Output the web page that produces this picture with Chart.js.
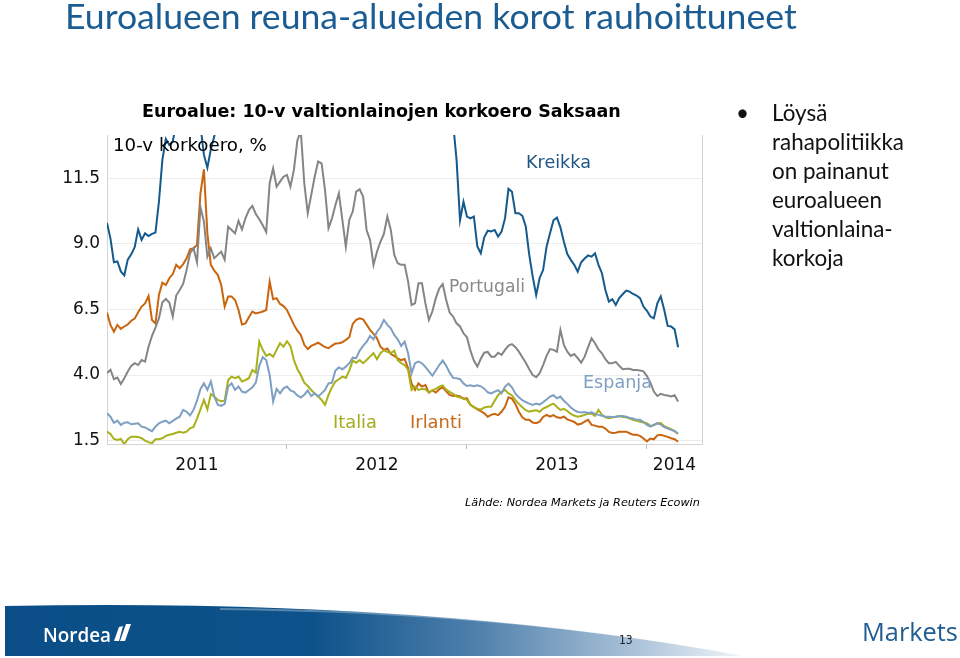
<!DOCTYPE html>
<html>
<head>
<meta charset="utf-8">
<script src="https://cdn.jsdelivr.net/npm/chart.js@4.4.1/dist/chart.umd.min.js"></script>
<style>
  html, body { margin: 0; padding: 0; background: #fff; }
  body { position: relative; width: 960px; height: 658px; overflow: hidden; font-family: "DejaVu Sans", sans-serif; }
  canvas { position: absolute; left: 0; top: 0; }
  .txt { position: absolute; white-space: nowrap; line-height: 1; }
  #title { font-family: Lato, "Open Sans", sans-serif; color: #1b5c93; font-size: 34px; }
  #sub { font-weight: bold; color: #000; font-size: 16px; }
  #unit { color: #000; font-size: 17px; }
  .lbl { font-size: 17px; }
  .bul { font-family: Lato, "Open Sans", sans-serif; color: #111; font-size: 22px; }
  #src { font-style: italic; color: #000; font-size: 12px; }
  #page { font-family: "Liberation Sans Narrow", "DejaVu Sans Condensed", sans-serif; color: #222; font-size: 12px; }
  #markets { font-family: "Open Sans", sans-serif; color: #215d91; font-size: 24px; }
  #nordea { font-family: "Open Sans", sans-serif; font-weight: 600; color: #fff; font-size: 20px; }
</style>
</head>
<body>
<canvas id="foot" width="960" height="58" style="top:600px"></canvas>
<canvas id="chart" width="960" height="658"></canvas>

<div class="txt" id="title">Euroalueen reuna-alueiden korot rauhoittuneet</div>
<div class="txt" id="sub">Euroalue: 10-v valtionlainojen korkoero Saksaan</div>
<div class="txt" id="unit">10-v korkoero, %</div>
<div class="txt lbl" id="lKre" style="color:#1d5585">Kreikka</div>
<div class="txt lbl" id="lPor" style="color:#8a8a8a">Portugali</div>
<div class="txt lbl" id="lEsp" style="color:#7f9fc2">Espanja</div>
<div class="txt lbl" id="lIta" style="color:#a4ad1e">Italia</div>
<div class="txt lbl" id="lIrl" style="color:#c86a1c">Irlanti</div>
<div class="txt bul" id="dot">•</div>
<div class="txt bul" id="b0">Löysä</div>
<div class="txt bul" id="b1">rahapolitiikka</div>
<div class="txt bul" id="b2">on painanut</div>
<div class="txt bul" id="b3">euroalueen</div>
<div class="txt bul" id="b4">valtionlaina-</div>
<div class="txt bul" id="b5">korkoja</div>
<div class="txt" id="src">Lähde: Nordea Markets ja Reuters Ecowin</div>
<div class="txt" id="nordea">Nordea</div>
<div class="txt" id="page">13</div>
<div class="txt" id="markets">Markets</div>

<script>
// weekly observations, first week of Jan 2011 .. early March 2014
const dates = [];
for (let w = 0; w < 166; w++) dates.push(2011 + w / 52);

// values above 13.15 run off the top of the plot
const kreikka = [
  9.8, 9.2, 8.3, 8.33, 7.95, 7.8, 8.4, 8.6, 8.87, 9.55, 9.15, 9.4, 9.3, 9.38, 9.43, 10.6, 12.2, 13.0, 12.77, 12.9,
  13.6, 14.0, 14.5, 14.8, 14.5, 14.0, 13.8, 13.5, 12.4, 11.9, 12.6, 13.1, 13.8, 14.5, 15.2, 15.8, 16.5, 17.0, 17.5, 18.0,
  18.5, 19.0, 19.5,
  20, 21, 22, 23, 24, 26, 28, 29, 30, 31, 32, 33, 32, 30, 27, 20, 19, 18, 18.5, 19,
  20, 21, 22, 24, 26, 27, 26, 25, 24, 25, 26, 25, 24, 23, 22, 22, 23, 22, 21, 20,
  20, 19, 18.5,
  18, 17.5, 17, 17, 16.5, 16, 16, 15.5, 15.5, 15, 15, 14.5, 14.5, 14, 13.6, 12.2, 9.9, 10.6, 10.04, 9.97,
  10.04, 8.9, 8.64, 9.25, 9.5, 9.47, 9.53, 9.28, 9.47, 9.97, 11.1, 10.99, 10.17, 10.17, 10.07, 9.66, 8.58, 7.75, 7.05, 7.7,
  8.0, 8.89, 9.4, 9.9,
  10.0, 9.63, 9.08, 8.61, 8.39, 8.2, 7.94, 8.3, 8.44, 8.56, 8.51, 8.64, 8.2, 7.88, 7.24, 6.8, 6.89, 6.67, 6.93, 7.08,
  7.22, 7.18, 7.09, 7.03, 6.93, 6.61, 6.45, 6.23, 6.16, 6.73, 7.0, 6.48, 5.87, 5.85, 5.74, 5.06
];
const portugali = [
  4.07, 4.2, 3.84, 3.9, 3.66, 3.88, 4.13, 4.35, 4.45, 4.38, 4.57, 4.51, 5.08, 5.49, 5.81, 6.16, 6.77, 6.9, 6.76, 6.23,
  7.03, 7.24, 7.47, 8.0, 8.64, 8.83, 8.3, 10.4, 9.85, 8.51, 8.83, 8.45, 8.58, 8.7, 8.4, 9.66, 9.53, 9.4, 9.88, 9.55,
  9.97, 10.29, 10.45,
  10.14, 9.94, 9.71, 9.45, 11.31, 11.88, 11.18, 11.37, 11.56, 11.63, 11.18, 11.82, 12.94, 13.3, 11.31, 10.17, 10.86, 11.56, 12.14, 12.07,
  11.05, 9.6, 9.97, 10.48, 10.93, 9.91, 8.89, 9.91, 10.23, 10.99, 11.08, 10.8, 9.53, 9.15, 8.2, 8.7, 9.08, 9.38, 10.04, 9.53,
  8.58, 8.26, 8.2,
  8.2, 7.56, 6.67, 6.73, 7.5, 7.5, 6.73, 6.1, 6.42, 6.93, 7.3, 7.47, 6.86, 6.38, 6.23, 5.97, 5.85, 5.59, 5.44, 4.93,
  4.55, 4.32, 4.62, 4.85, 4.88, 4.7, 4.7, 4.85, 4.77, 4.96, 5.12, 5.18, 5.06, 4.89, 4.68, 4.47, 4.22, 4.0, 3.92, 4.07,
  4.38, 4.73, 4.99, 4.96,
  4.89, 5.72, 5.15, 4.89, 4.73, 4.8, 4.64, 4.47, 4.7, 5.06, 5.4, 5.21, 4.98, 4.83, 4.6, 4.45, 4.45, 4.5, 4.35, 4.22,
  4.24, 4.24, 4.19, 4.19, 4.17, 4.14, 3.96, 3.71, 3.37, 3.2, 3.28, 3.24, 3.22, 3.18, 3.23, 2.99
];
const irlanti = [
  6.38, 5.91, 5.65, 5.91, 5.76, 5.85, 5.93, 6.07, 6.15, 6.39, 6.61, 6.73, 7.01, 6.1, 5.97, 7.05, 7.52, 7.43, 7.69, 7.85,
  8.2, 8.07, 8.23, 8.45, 8.79, 8.83, 8.96, 10.93, 11.84, 9.4, 8.2, 7.98, 7.82, 7.43, 6.61, 6.99, 6.99, 6.86, 6.48, 5.93,
  5.97, 6.2, 6.42,
  6.35, 6.38, 6.42, 6.48, 7.56, 6.89, 6.93, 6.71, 6.63, 6.48, 6.2, 5.92, 5.69, 5.53, 5.15, 4.99, 5.11, 5.17, 5.23, 5.15,
  5.06, 5.02, 5.12, 5.2, 5.21, 5.25, 5.34, 5.44, 5.95, 6.1, 6.16, 6.12, 5.92, 5.72, 5.57, 5.4, 5.08, 4.96, 5.01, 4.8,
  4.73, 4.63, 4.57,
  4.61, 4.26, 3.68, 3.43, 3.68, 3.56, 3.62, 3.33, 3.41, 3.33, 3.46, 3.53, 3.38, 3.24, 3.2, 3.22, 3.18, 3.1, 3.11, 2.87,
  2.78, 2.69, 2.62, 2.54, 2.41, 2.48, 2.52, 2.47, 2.6, 2.79, 3.15, 3.1, 2.9, 2.6, 2.39, 2.29, 2.29, 2.19, 2.16, 2.22,
  2.4, 2.48, 2.41, 2.47,
  2.39, 2.36, 2.41, 2.31, 2.26, 2.21, 2.11, 2.14, 2.22, 2.29, 2.1, 2.07, 2.03, 2.03, 1.96, 1.83, 1.79, 1.8, 1.84, 1.84,
  1.84, 1.78, 1.72, 1.72, 1.68, 1.58, 1.47, 1.58, 1.55, 1.7, 1.72, 1.68, 1.64, 1.59, 1.55, 1.46
];
const espanja = [
  2.54, 2.41, 2.18, 2.26, 2.1, 2.18, 2.2, 2.12, 2.14, 2.16, 2.03, 2.0, 1.93, 1.86, 2.03, 2.16, 2.22, 2.26, 2.16, 2.25,
  2.34, 2.41, 2.67, 2.6, 2.46, 2.67, 3.02, 3.46, 3.68, 3.43, 3.75, 3.18, 2.87, 2.82, 2.9, 3.56, 3.68, 3.43, 3.56, 3.37,
  3.33, 3.43, 3.53,
  3.71, 4.35, 4.68, 4.57, 4.0, 2.99, 3.47, 3.3, 3.49, 3.56, 3.41, 3.36, 3.22, 3.14, 3.25, 3.41, 3.2, 3.3, 3.18, 3.3,
  3.43, 3.68, 3.71, 4.17, 4.29, 4.22, 4.32, 4.45, 4.66, 4.64, 4.93, 5.11, 5.26, 5.49, 5.36, 5.65, 5.82, 6.1, 5.91, 5.78,
  5.53, 5.36, 5.11,
  5.27, 4.83, 4.07, 4.45, 4.51, 4.45, 4.31, 4.14, 3.98, 4.17, 4.38, 4.55, 4.35, 4.09, 3.89, 3.88, 3.84, 3.68, 3.58, 3.61,
  3.57, 3.61, 3.57, 3.48, 3.34, 3.3, 3.37, 3.42, 3.3, 3.56, 3.67, 3.53, 3.29, 3.15, 3.04, 2.97, 2.91, 2.86, 2.91, 2.87,
  2.96, 3.07, 3.18, 3.23,
  3.11, 3.18, 3.02, 2.9, 2.76, 2.66, 2.59, 2.57, 2.59, 2.55, 2.58, 2.52, 2.48, 2.45, 2.41, 2.41, 2.4, 2.41, 2.43, 2.44,
  2.41, 2.36, 2.34, 2.29, 2.29, 2.21, 2.1, 2.03, 2.11, 2.16, 2.11, 2.01, 1.96, 1.91, 1.86, 1.78
];
const italia = [
  1.84, 1.75, 1.56, 1.52, 1.56, 1.37, 1.55, 1.65, 1.65, 1.64, 1.59, 1.5, 1.44, 1.4, 1.55, 1.55, 1.59, 1.68, 1.72, 1.75,
  1.8, 1.84, 1.8, 1.84, 1.97, 2.02, 2.34, 2.69, 3.05, 2.69, 3.27, 3.18, 3.05, 3.0, 3.02, 3.81, 3.94, 3.88, 3.94, 3.75,
  3.81, 3.88, 4.19,
  4.09, 5.27, 4.96, 4.73, 4.8, 4.7, 4.96, 5.21, 5.08, 5.29, 5.11, 4.57, 4.23, 4.0, 3.71, 3.58, 3.43, 3.3, 3.18, 3.05,
  2.86, 3.24, 3.53, 3.75, 3.84, 3.94, 3.89, 4.17, 4.55, 4.47, 4.57, 4.45, 4.57, 4.7, 4.83, 4.6, 4.83, 4.94, 4.88, 4.83,
  4.93, 4.57, 4.45,
  4.38, 4.19, 3.43, 3.56, 3.43, 3.47, 3.46, 3.33, 3.41, 3.47, 3.56, 3.6, 3.44, 3.36, 3.28, 3.18, 3.14, 3.1, 3.05, 2.86,
  2.77, 2.72, 2.68, 2.76, 2.79, 2.79, 3.02, 3.23, 3.36, 3.43, 3.3, 3.23, 3.04, 2.9, 2.77, 2.66, 2.6, 2.64, 2.66, 2.6,
  2.72, 2.78, 2.85, 2.91,
  2.78, 2.67, 2.71, 2.63, 2.52, 2.45, 2.41, 2.44, 2.48, 2.52, 2.53, 2.44, 2.67, 2.48, 2.39, 2.35, 2.38, 2.41, 2.44, 2.4,
  2.39, 2.34, 2.29, 2.26, 2.22, 2.19, 2.16, 2.06, 2.08, 2.16, 2.17, 2.05, 1.99, 1.94, 1.86, 1.75
];

const yTicks = [1.5, 4, 6.5, 9, 11.5];
const yearLabels = ["2011", "2012", "2013", "2014"];
const yearLabelPos = [2011.5, 2012.5, 2013.5, 2014.153];
const yearBreaks = [2012, 2013, 2014];

function pts(vals) {
  return vals.map((v, i) => ({ x: dates[i], y: v }));
}

function line(label, vals, color) {
  return { label: label, data: pts(vals), borderColor: color, borderWidth: 2, pointRadius: 0, tension: 0 };
}

let tickFont = { family: "DejaVu Sans", size: 17 };

new Chart(document.getElementById("chart").getContext("2d"), {
  type: "line",
  data: {
    datasets: [
      line("Kreikka", kreikka, "#145a8c"),
      line("Portugali", portugali, "#858585"),
      line("Espanja", espanja, "#7f9fc2"),
      line("Italia", italia, "#a8b01a"),
      line("Irlanti", irlanti, "#c9650e")
    ]
  },
  options: {
    responsive: false,
    animation: false,
    layout: { padding: { left: 57, right: 257, top: 135, bottom: 174 } },
    plugins: { legend: { display: false }, tooltip: { enabled: false } },
    scales: {
      x: {
        type: "linear", min: 2011, max: 2014.306,
        afterBuildTicks: s => { s.ticks = yearLabelPos.concat(yearBreaks).sort().map(v => ({ value: v })); },
        afterFit: s => { s.height = 40; },
        ticks: {
          autoSkip: false, maxRotation: 0, padding: 6, color: "#111", font: tickFont,
          callback: v => { let k = yearLabelPos.indexOf(v); return k >= 0 ? yearLabels[k] : ""; }
        },
        grid: {
          drawOnChartArea: false, tickLength: 5,
          tickColor: c => yearBreaks.includes(c.tick.value) ? "#bbbbbb" : "rgba(0,0,0,0)"
        },
        border: { color: "#d4d4d4" }
      },
      y: {
        min: 1.37, max: 13.15,
        afterBuildTicks: s => { s.ticks = yTicks.map(v => ({ value: v })); },
        afterFit: s => { s.width = 50; },
        ticks: { padding: 7, color: "#111", font: tickFont, callback: v => v.toFixed(1) },
        grid: { color: "#ececec", drawTicks: false },
        border: { color: "#d4d4d4" }
      },
      yr: {
        position: "right", min: 1.37, max: 13.15,
        afterFit: s => { s.width = 1; },
        ticks: { display: false },
        grid: { display: false },
        border: { color: "#d4d4d4" }
      }
    }
  }
});

// footer band
let f = document.getElementById("foot").getContext("2d");
let g = f.createLinearGradient(0, 0, 745, 0);
g.addColorStop(0, "#0b4e87");
g.addColorStop(0.42, "#0d528a");
g.addColorStop(0.64, "#4f80ac");
g.addColorStop(0.86, "#aec5da");
g.addColorStop(1, "#f3f6f9");
f.fillStyle = g;
f.beginPath();
f.moveTo(5, 6);
f.quadraticCurveTo(430, -2, 745, 56);
f.lineTo(5, 56);
f.closePath();
f.fill();
f.strokeStyle = "rgba(255,255,255,0.3)";
f.lineWidth = 2;
f.beginPath();
f.moveTo(220, 9);
f.quadraticCurveTo(520, 12, 745, 56);
f.stroke();
// sail mark
f.fillStyle = "#fff";
f.beginPath(); f.moveTo(114, 41); f.lineTo(119, 27); f.lineTo(123, 26); f.lineTo(119, 41); f.fill();
f.beginPath(); f.moveTo(120, 41); f.lineTo(126, 24); f.lineTo(131, 24); f.lineTo(125, 41); f.fill();

// text placement by baseline, optional fit to width
function place(id, left, base, width) {
  let el = document.getElementById(id);
  if (width) {
    let fs = parseFloat(getComputedStyle(el).fontSize);
    el.style.fontSize = (fs * width / el.getBoundingClientRect().width) + "px";
  }
  let m = document.createElement("span");
  m.style.cssText = "display:inline-block;width:0;height:0;vertical-align:baseline";
  el.appendChild(m);
  let off = m.getBoundingClientRect().top - el.getBoundingClientRect().top;
  el.removeChild(m);
  el.style.left = left + "px";
  el.style.top = (base - off) + "px";
}

place("title", 65, 29, 732);
place("sub", 142, 117, 479);
place("unit", 113, 151, 154);
place("lKre", 526, 168, 65);
place("lPor", 449, 292, 76);
place("lEsp", 583, 388, 69);
place("lIta", 333, 428, 44);
place("lIrl", 410, 428, 52);

place("b1", 772, 150, 132);
let bfs = document.getElementById("b1").style.fontSize;
["dot", "b0", "b2", "b3", "b4", "b5"].forEach(id => document.getElementById(id).style.fontSize = bfs);
place("dot", 736, 121);
place("b0", 772, 121);
place("b2", 772, 179);
place("b3", 772, 208);
place("b4", 772, 237);
place("b5", 772, 266);

place("src", 465, 506, 235);
place("nordea", 43, 642, 68);
place("page", 619, 644);
place("markets", 862, 641, 96);
</script>
</body>
</html>
